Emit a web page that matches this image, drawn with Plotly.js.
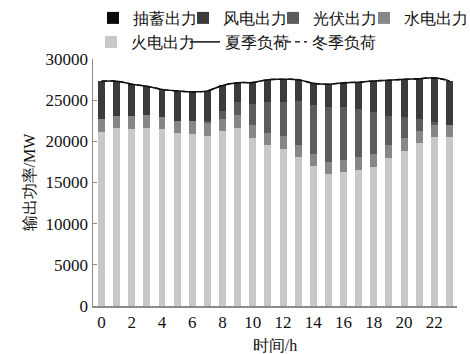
<!DOCTYPE html>
<html>
<head>
<meta charset="utf-8">
<script src="https://cdn.plot.ly/plotly-3.0.1.min.js"></script>
<style>
html,body{margin:0;padding:0;background:#fff;}
#chart{width:470px;height:354px;}
</style>
</head>
<body>
<div id="chart"></div>
<script>
var hours = [0,1,2,3,4,5,6,7,8,9,10,11,12,13,14,15,16,17,18,19,20,21,22,23];
var pumped = [0,0,0,0,0,0,0,0,0,0,0,0,0,0,0,0,0,0,0,0,0,0,0,0];
var wind = [4620,4210,3880,3510,3320,3620,3570,3620,3060,2320,2570,2770,2810,2580,2580,2770,2990,3280,3720,4360,4620,4910,5350,5350];
var solar = [0,0,0,0,0,0,0,290,1040,1630,2620,3650,4130,5320,5980,6680,6420,5870,5200,3540,2540,1440,370,0];
var hydro = [1550,1510,1550,1510,1510,1550,1550,1520,1470,1550,1510,1480,1470,1510,1520,1470,1470,1550,1560,1510,1550,1470,1480,1480];
var thermal = [21140,21590,21510,21660,21480,20960,20890,20700,21220,21620,20450,19590,19120,18080,16970,16020,16240,16490,16860,18010,18820,19780,20510,20510];
var summerLoad = [27310,27310,26940,26680,26310,26130,26010,26130,26790,27120,27150,27490,27530,27490,27050,26940,27120,27190,27340,27420,27530,27600,27710,27340];
var winterLoad = [27310,27310,26940,26680,26310,26130,26010,26130,26790,27120,27150,27490,27530,27490,27050,26940,27120,27190,27340,27420,27530,27600,27710,27340];
var xTicks = [0,2,4,6,8,10,12,14,16,18,20,22];

var FONT = "Liberation Serif";

var data = [
  {type:'bar', name:'火电出力', x:hours, y:thermal, marker:{color:'#c8c8c8'}, legend:'legend5'},
  {type:'bar', name:'水电出力', x:hours, y:hydro, marker:{color:'#878787'}, legend:'legend4'},
  {type:'bar', name:'光伏出力', x:hours, y:solar, marker:{color:'#5c5c5c'}, legend:'legend3'},
  {type:'bar', name:'风电出力', x:hours, y:wind, marker:{color:'#3b3b3b'}, legend:'legend2'},
  {type:'bar', name:'抽蓄出力', x:hours, y:pumped, marker:{color:'#0a0a0a'}, legend:'legend'},
  {type:'scatter', mode:'lines', name:'冬季负荷', x:hours, y:winterLoad, line:{color:'#000', width:1.4, dash:'5px,4px', shape:'spline'}, legend:'legend7'},
  {type:'scatter', mode:'lines', name:'夏季负荷', x:hours, y:summerLoad, line:{color:'#111', width:1.5, shape:'spline'}, legend:'legend6'}
];

function legendCfg(leftPx, topPx) {
  return {orientation:'h', xref:'container', yref:'container', x:leftPx/470, y:1-topPx/354, xanchor:'left', yanchor:'top',
          font:{family:FONT, size:16, color:'#111'}, bgcolor:'rgba(0,0,0,0)', itemwidth:30, borderwidth:0};
}

var layout = {
  width:470, height:354,
  margin:{l:93, r:13, t:35, b:48},
  paper_bgcolor:'#fff', plot_bgcolor:'#fff',
  barmode:'stack', bargap:0.54,
  font:{family:FONT, size:16, color:'#111'},
  showlegend:true,
  legend:legendCfg(93, 1),
  legend2:legendCfg(183, 1),
  legend3:legendCfg(273, 1),
  legend4:legendCfg(364, 1),
  legend5:legendCfg(91, 25),
  legend6:legendCfg(185, 25),
  legend7:legendCfg(272, 25),
  xaxis:{range:[-0.56,23.5], tickmode:'array', tickvals:xTicks, ticktext:xTicks.map(String), showgrid:false, zeroline:false,
         showline:true, linecolor:'#8a8a8a', linewidth:1.5, ticks:'', tickfont:{family:FONT, size:17},
         title:{text:'时间/h', font:{family:FONT, size:16}, standoff:9}},
  yaxis:{range:[0,30000], dtick:5000, tick0:0, tickformat:'d', showgrid:false, zeroline:false, showline:true, linecolor:'#8a8a8a', linewidth:1.5,
         ticks:'inside', ticklen:4, tickcolor:'#8a8a8a', tickfont:{family:FONT, size:17},
         title:{text:'输出功率/MW', font:{family:FONT, size:16}, standoff:6}}
};
Plotly.newPlot('chart', data, layout, {displayModeBar:false, staticPlot:true});
</script>
</body>
</html>
